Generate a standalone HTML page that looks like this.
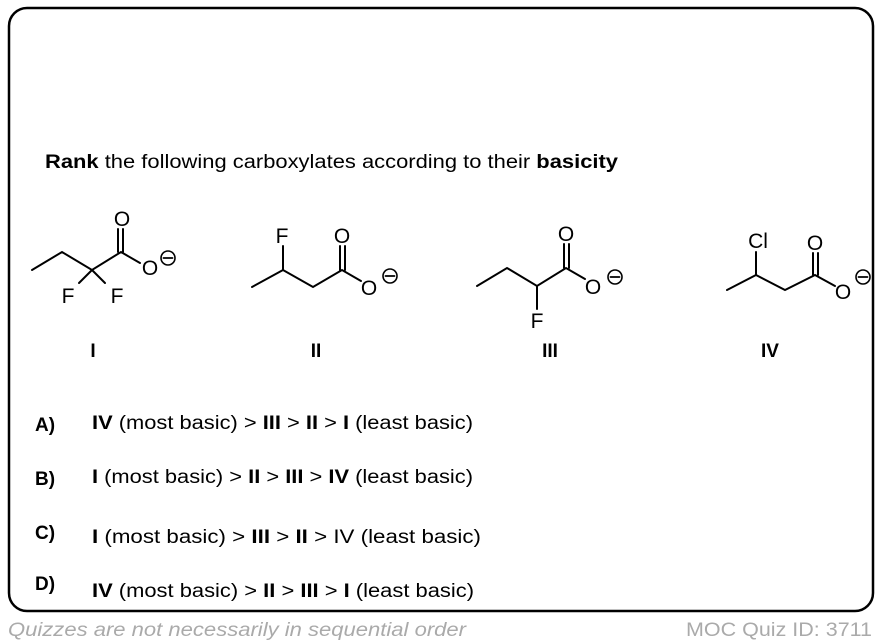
<!DOCTYPE html>
<html><head><meta charset="utf-8"><style>
html,body{margin:0;padding:0;background:#fff;}
svg{display:block;font-family:"Liberation Sans",Arial,sans-serif;}
</style></head><body>
<svg width="882" height="644" viewBox="0 0 882 644" xmlns="http://www.w3.org/2000/svg">
<rect x="9" y="8" width="864" height="603" rx="18" fill="#fff" stroke="#000" stroke-width="2.5"/>
<text x="45" y="168" font-size="19" textLength="573" lengthAdjust="spacingAndGlyphs"><tspan font-weight="bold">Rank</tspan> the following carboxylates according to their <tspan font-weight="bold">basicity</tspan></text>
<g stroke="#000" stroke-width="2" fill="none" stroke-linecap="round">
<!-- I -->
<polyline points="32,270 62,252 92,270 121,252 140,263"/>
<line x1="118" y1="252" x2="118" y2="229"/><line x1="123" y1="252" x2="123" y2="229"/>
<line x1="92" y1="270" x2="79" y2="283"/><line x1="92" y1="270" x2="105" y2="283"/>
<circle cx="168" cy="258" r="7" stroke-width="1.6"/><line x1="163.5" y1="258" x2="172.5" y2="258" stroke-width="1.8"/>
<!-- II -->
<polyline points="252,287 283,270 313,287 342,270 361,281"/>
<line x1="283" y1="270" x2="283" y2="246"/>
<line x1="340" y1="270" x2="340" y2="246"/><line x1="345" y1="270" x2="345" y2="246"/>
<circle cx="390" cy="276" r="7" stroke-width="1.6"/><line x1="385.5" y1="276" x2="394.5" y2="276" stroke-width="1.8"/>
<!-- III -->
<polyline points="477,286 507,268 537,286 566,268 585,279"/>
<line x1="537" y1="286" x2="537" y2="309"/>
<line x1="564" y1="268" x2="564" y2="244"/><line x1="569" y1="268" x2="569" y2="244"/>
<circle cx="615" cy="277" r="7" stroke-width="1.6"/><line x1="610.5" y1="277" x2="619.5" y2="277" stroke-width="1.8"/>
<!-- IV -->
<polyline points="727,290 756,275 785,290 815,275 835,286"/>
<line x1="756" y1="275" x2="756" y2="252"/>
<line x1="813" y1="275" x2="813" y2="253"/><line x1="818" y1="275" x2="818" y2="253"/>
<circle cx="863" cy="277" r="7" stroke-width="1.6"/><line x1="858.5" y1="277" x2="867.5" y2="277" stroke-width="1.8"/>
</g>
<g font-size="21" text-anchor="middle">
<text x="122" y="226">O</text><text x="150" y="275">O</text>
<text x="68" y="303">F</text><text x="117" y="303">F</text>
<text x="282" y="243">F</text><text x="342" y="243">O</text><text x="369" y="295">O</text>
<text x="566" y="241">O</text><text x="593" y="294">O</text><text x="537" y="328">F</text>
<text x="758" y="248">Cl</text><text x="815" y="250">O</text><text x="843" y="299">O</text>
</g>
<g font-size="19" font-weight="bold" text-anchor="middle">
<text x="93" y="357">I</text><text x="316" y="357">II</text><text x="550" y="357">III</text><text x="770" y="357">IV</text>
</g>
<g font-size="19">
<text x="35" y="431" font-weight="bold">A)</text>
<text x="92" y="429" textLength="381" lengthAdjust="spacingAndGlyphs"><tspan font-weight="bold">IV</tspan> (most basic) &gt; <tspan font-weight="bold">III</tspan> &gt; <tspan font-weight="bold">II</tspan> &gt; <tspan font-weight="bold">I</tspan> (least basic)</text>
<text x="35" y="485" font-weight="bold">B)</text>
<text x="92" y="483" textLength="381" lengthAdjust="spacingAndGlyphs"><tspan font-weight="bold">I</tspan> (most basic) &gt; <tspan font-weight="bold">II</tspan> &gt; <tspan font-weight="bold">III</tspan> &gt; <tspan font-weight="bold">IV</tspan> (least basic)</text>
<text x="35" y="539" font-weight="bold">C)</text>
<text x="92" y="543" textLength="389" lengthAdjust="spacingAndGlyphs"><tspan font-weight="bold">I</tspan> (most basic) &gt; <tspan font-weight="bold">III</tspan> &gt;  <tspan font-weight="bold">II</tspan> &gt; IV (least basic)</text>
<text x="35" y="590" font-weight="bold">D)</text>
<text x="92" y="597" textLength="382" lengthAdjust="spacingAndGlyphs"><tspan font-weight="bold">IV</tspan> (most basic) &gt; <tspan font-weight="bold">II</tspan> &gt; <tspan font-weight="bold">III</tspan> &gt; <tspan font-weight="bold">I</tspan> (least basic)</text>
</g>
<text x="8" y="636" font-size="19" font-style="italic" fill="#aaa" textLength="458" lengthAdjust="spacingAndGlyphs">Quizzes are not necessarily in sequential order</text>
<text x="686" y="636" font-size="19" fill="#aaa" textLength="186" lengthAdjust="spacingAndGlyphs">MOC Quiz ID: 3711</text>
</svg>
</body></html>
